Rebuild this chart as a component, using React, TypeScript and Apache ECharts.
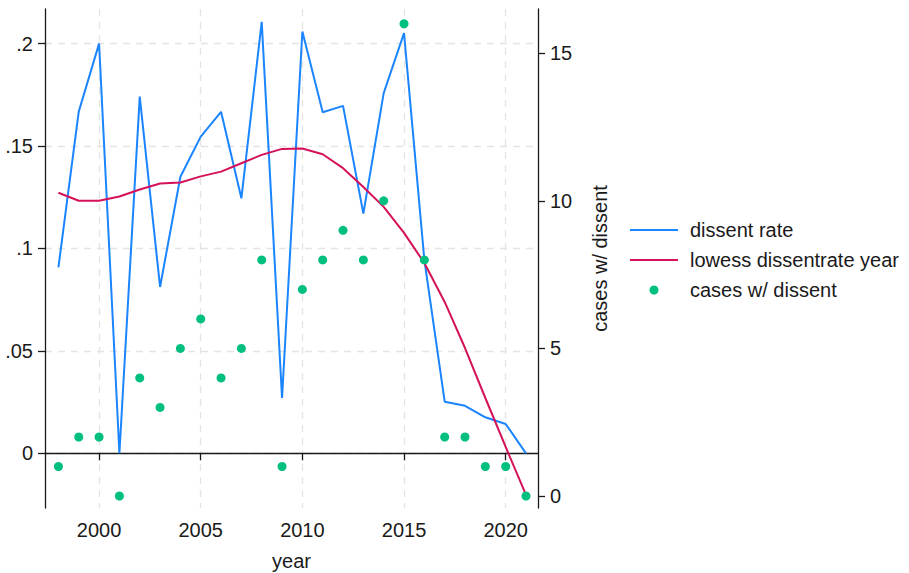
import React, { useEffect, useRef } from "react";
import * as echarts from "echarts";

const years = [1998, 1999, 2000, 2001, 2002, 2003, 2004, 2005, 2006, 2007, 2008, 2009, 2010, 2011, 2012, 2013, 2014, 2015, 2016, 2017, 2018, 2019, 2020, 2021];
const dissentRate = [0.0908, 0.1668, 0.2, 0, 0.1741, 0.0812, 0.135, 0.1546, 0.1667, 0.1245, 0.2106, 0.027, 0.2059, 0.1665, 0.1696, 0.117, 0.1758, 0.2051, 0.0944, 0.0252, 0.0232, 0.0176, 0.0143, 0];
const lowessRate = [0.1272, 0.1233, 0.1233, 0.1254, 0.1288, 0.1317, 0.1322, 0.1352, 0.1375, 0.1416, 0.1457, 0.1486, 0.1488, 0.146, 0.1392, 0.130, 0.1203, 0.1076, 0.0929, 0.0739, 0.0514, 0.027, 0.0031, -0.0203];
const casesWithDissent = [1, 2, 2, 0, 4, 3, 5, 6, 4, 5, 8, 1, 7, 8, 9, 8, 10, 16, 8, 2, 2, 1, 1, 0];
const xTicks = [2000, 2005, 2010, 2015, 2020];
const leftTicks = [0, 0.05, 0.1, 0.15, 0.2];
const rightTicks = [0, 5, 10, 15];

const FONT = "'Liberation Sans', Arial, Helvetica, sans-serif";
const INK = "#1a1a1a";
const GRID = "#e4e4e4";

export default function App() {
  const ref = useRef<HTMLDivElement>(null);
  useEffect(() => {
    if (!ref.current) return;
    const chart = echarts.init(ref.current, undefined, { renderer: "svg" });
    const fmtLeft = (v: number) => (v === 0 ? "0" : String(v).replace(/^0/, ""));
    chart.setOption({
      animation: false,
      backgroundColor: "#ffffff",
      textStyle: { fontFamily: FONT },
      grid: { left: 45, right: 371, top: 9, bottom: 65, containLabel: false, outerBoundsMode: "none" },
      legend: {
        orient: "vertical",
        left: 629,
        top: 220,
        itemWidth: 48,
        itemHeight: 9,
        itemGap: 10,
        padding: 0,
        textStyle: { fontSize: 20, lineHeight: 20, color: INK, fontFamily: FONT, padding: [0, 0, 0, 7] },
        data: [
          { name: "dissent rate", itemStyle: { opacity: 0 } },
          { name: "lowess dissentrate year", itemStyle: { opacity: 0 } },
          { name: "cases w/ dissent" },
        ],
      },
      xAxis: {
        type: "value",
        min: 1997.34,
        max: 2021.59,
        name: "year",
        nameLocation: "middle",
        nameGap: 43,
        nameTextStyle: { fontSize: 20, color: INK, fontFamily: FONT },
        axisLine: { show: true, lineStyle: { color: INK, width: 1.3 } },
        axisTick: { show: true, length: 7, customValues: xTicks, lineStyle: { color: INK, width: 1.3 } },
        axisLabel: { customValues: xTicks, fontSize: 20, color: INK, margin: 12, fontFamily: FONT, formatter: (v: number) => String(v) },
        splitLine: { show: true, lineStyle: { color: GRID, type: [7, 6], width: 1.3 } },
      },
      yAxis: [
        {
          type: "value",
          min: -0.0267,
          max: 0.2169,
          position: "left",
          axisLine: { show: true, lineStyle: { color: INK, width: 1.3 } },
          axisTick: { show: true, length: 7, customValues: leftTicks, lineStyle: { color: INK, width: 1.3 } },
          axisLabel: { customValues: leftTicks, fontSize: 20, color: INK, margin: 12, fontFamily: FONT, formatter: fmtLeft },
          splitLine: { show: true, lineStyle: { color: GRID, type: [7, 6], width: 1.3 } },
        },
        {
          type: "value",
          min: -0.406,
          max: 16.5,
          position: "right",
          name: "cases w/ dissent",
          nameLocation: "middle",
          nameRotate: 90,
          nameGap: 52,
          nameTextStyle: { fontSize: 20, color: INK, fontFamily: FONT },
          axisLine: { show: true, lineStyle: { color: INK, width: 1.3 } },
          axisTick: { show: true, length: 7, customValues: rightTicks, lineStyle: { color: INK, width: 1.3 } },
          axisLabel: { customValues: rightTicks, fontSize: 20, color: INK, margin: 12, fontFamily: FONT },
          splitLine: { show: false },
        },
      ],
      series: [
        {
          name: "dissent rate",
          type: "line",
          yAxisIndex: 0,
          symbol: "none",
          color: "#1A85FF",
          lineStyle: { color: "#1A85FF", width: 2 },
          data: years.map((y, i) => [y, dissentRate[i]]),
          z: 2,
        },
        {
          name: "lowess dissentrate year",
          type: "line",
          yAxisIndex: 0,
          symbol: "none",
          color: "#D41159",
          lineStyle: { color: "#D41159", width: 2 },
          data: years.map((y, i) => [y, lowessRate[i]]),
          z: 3,
        },
        {
          name: "cases w/ dissent",
          type: "scatter",
          yAxisIndex: 1,
          symbol: "circle",
          symbolSize: 9,
          itemStyle: { color: "#00BF7F", opacity: 1 },
          data: years.map((y, i) => [y, casesWithDissent[i]]),
          z: 4,
        },
      ],
    });
    return () => chart.dispose();
  }, []);
  return (
    <div
      ref={ref}
      style={{ position: "absolute", left: 0, top: 0, width: 909, height: 573, background: "#fff" }}
    />
  );
}
